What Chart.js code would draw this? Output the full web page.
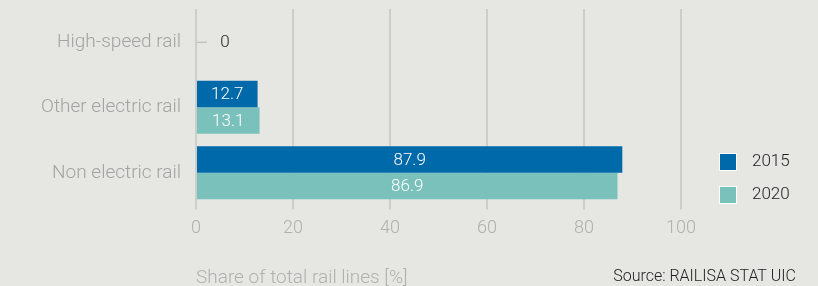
<!DOCTYPE html>
<html>
<head>
<meta charset="utf-8">
<script src="https://cdn.jsdelivr.net/npm/chart.js@4"></script>
<style>
  html, body { margin: 0; padding: 0; background: #e6e6e2; }
  #wrap { width: 818px; height: 286px; position: relative; }
</style>
</head>
<body>
<div id="wrap"><canvas id="railChart" width="818" height="286"></canvas></div>
<script>
const categories = ['High-speed rail', 'Other electric rail', 'Non electric rail'];
const years = ['2015', '2020'];
const values2015 = [0, 12.7, 87.9];
const values2020 = [0, 13.1, 86.9];
const xTicks = [0, 20, 40, 60, 80, 100];

const colors = ['#0069aa', '#7bc1bb'];
const fontFamily = 'Roboto, "Open Sans", sans-serif';

// labels inside bars, zero value label and legend + source text
const labelPlugin = {
    id: 'labelPlugin',
    afterDatasetsDraw(chart) {
        const ctx = chart.ctx;
        const xScale = chart.scales.x;
        const yScale = chart.scales.y;
        ctx.save();
        ctx.font = '300 17px ' + fontFamily;
        ctx.textBaseline = 'middle';
        ctx.textAlign = 'center';
        chart.data.datasets.forEach((ds, i) => {
            chart.getDatasetMeta(i).data.forEach((bar, j) => {
                const v = ds.data[j];
                if (v === 0) return;
                ctx.fillStyle = '#ffffff';
                ctx.fillText(String(v), (bar.base + bar.x) / 2, bar.y + 1);
            });
        });
        // zero categories: one label with a short leader
        categories.forEach((c, j) => {
            if (values2015[j] === 0 && values2020[j] === 0) {
                const y = yScale.getPixelForValue(j);
                const x0 = xScale.getPixelForValue(0);
                ctx.strokeStyle = '#b5b5b5';
                ctx.lineWidth = 1;
                ctx.beginPath();
                ctx.moveTo(x0 + 1, y + 0.5);
                ctx.lineTo(x0 + 11, y + 0.5);
                ctx.stroke();
                ctx.fillStyle = '#222222';
                ctx.fillText('0', x0 + 29, y + 1);
            }
        });
        // legend
        ctx.textAlign = 'left';
        chart.data.datasets.forEach((ds, i) => {
            const y = 161 + i * 33;
            ctx.fillStyle = '#ffffff';
            ctx.fillRect(719, y - 8, 18, 18);
            ctx.fillStyle = ds.backgroundColor;
            ctx.fillRect(720, y - 7, 16, 16);
            ctx.fillStyle = '#222222';
            ctx.fillText(ds.label, 752, y + 1);
        });
        // source
        ctx.font = '300 16px ' + fontFamily;
        ctx.fillStyle = '#222222';
        ctx.textAlign = 'right';
        ctx.fillText('Source: RAILISA STAT UIC', 796, 277);
        ctx.restore();
    }
};

const ctx = document.getElementById('railChart').getContext('2d');
new Chart(ctx, {
    type: 'bar',
    data: {
        labels: categories,
        datasets: [
            { label: years[0], data: values2015, backgroundColor: colors[0], minBarLength: 1 },
            { label: years[1], data: values2020, backgroundColor: colors[1], minBarLength: 1 }
        ]
    },
    options: {
        indexAxis: 'y',
        responsive: false,
        maintainAspectRatio: false,
        animation: false,
        layout: { padding: { top: 9, right: 137, bottom: -4, left: 0 } },
        plugins: {
            legend: { display: false },
            tooltip: { enabled: false }
        },
        datasets: {
            bar: { categoryPercentage: 0.81, barPercentage: 1 }
        },
        scales: {
            x: {
                min: 0,
                max: 100,
                afterBuildTicks(scale) {
                    scale.ticks = xTicks.map(v => ({ value: v }));
                },
                grid: { color: '#cdcdca', lineWidth: 2, tickLength: 4, drawTicks: true },
                border: { display: false },
                ticks: { color: '#b0b0ae', padding: 8, font: { family: fontFamily, size: 18, weight: 300 } },
                title: {
                    display: true,
                    text: 'Share of total rail lines [%]',
                    align: 'start',
                    color: '#b0b0ae',
                    padding: { top: 20, bottom: 0 },
                    font: { family: fontFamily, size: 19, weight: 300 }
                }
            },
            y: {
                grid: { display: false, drawTicks: false },
                border: { display: false },
                afterFit(scale) {
                    scale.width = 196;
                    scale.paddingTop = 0;
                    scale.paddingBottom = 0;
                },
                ticks: { color: '#a3a3a1', padding: 15, font: { family: fontFamily, size: 19, weight: 300 } }
            }
        }
    },
    plugins: [labelPlugin]
});
</script>
</body>
</html>
